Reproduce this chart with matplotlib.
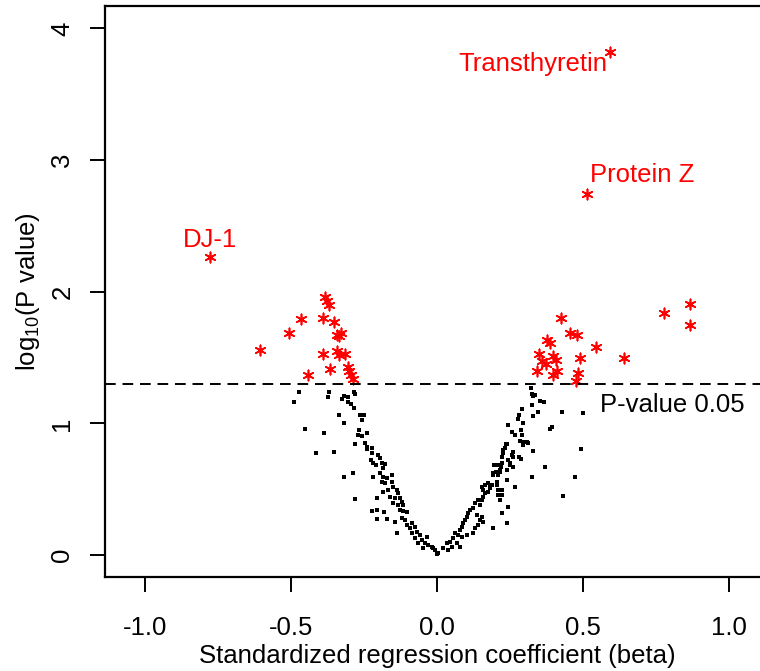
import matplotlib
matplotlib.use('Agg')
import matplotlib.pyplot as plt

# proteins below significance (black), left arm of the volcano
left_beta = [-0.473, -0.490, -0.370, -0.373, -0.325, -0.318, -0.305, -0.284, -0.281, -0.305,
             -0.295, -0.284, -0.336, -0.318, -0.264, -0.250, -0.257, -0.452, -0.387, -0.267,
             -0.271, -0.257, -0.240, -0.281, -0.247, -0.240, -0.414, -0.353, -0.240, -0.223,
             -0.223, -0.202, -0.195, -0.226, -0.219, -0.209, -0.188, -0.178, -0.185, -0.318,
             -0.288, -0.219, -0.195, -0.185, -0.171, -0.154, -0.188, -0.178, -0.154, -0.151,
             -0.185, -0.168, -0.137, -0.134, -0.281, -0.205, -0.161, -0.144, -0.127, -0.120,
             -0.151, -0.134, -0.116, -0.223, -0.205, -0.182, -0.127, -0.116, -0.103, -0.205,
             -0.171, -0.144, -0.120, -0.110, -0.103, -0.086, -0.092, -0.075, -0.137, -0.086,
             -0.068, -0.058, -0.075, -0.051, -0.034, -0.065, -0.041, -0.031, -0.048, -0.017,
             -0.007, 0.000, -0.014]
left_logp = [1.238, 1.162, 1.238, 1.200, 1.185, 1.207, 1.200, 1.238, 1.222, 1.162,
             1.147, 1.116, 1.063, 1.002, 1.063, 1.063, 1.025, 0.957, 0.926, 0.949,
             0.911, 0.904, 0.926, 0.843, 0.850, 0.820, 0.774, 0.782, 0.805, 0.812,
             0.774, 0.759, 0.737, 0.721, 0.699, 0.683, 0.699, 0.691, 0.661, 0.592,
             0.623, 0.592, 0.623, 0.592, 0.585, 0.607, 0.554, 0.547, 0.554, 0.516,
             0.478, 0.494, 0.494, 0.471, 0.425, 0.433, 0.440, 0.433, 0.433, 0.402,
             0.395, 0.380, 0.380, 0.334, 0.342, 0.326, 0.342, 0.334, 0.326, 0.273,
             0.273, 0.251, 0.281, 0.266, 0.228, 0.243, 0.205, 0.213, 0.167, 0.167,
             0.175, 0.152, 0.129, 0.114, 0.137, 0.091, 0.091, 0.076, 0.053, 0.061,
             0.038, 0.008, 0.053]

# right arm of the volcano
right_beta = [0.003, 0.021, 0.034, 0.045, 0.055, 0.062, 0.072, 0.079, 0.086, 0.089,
              0.096, 0.103, 0.106, 0.113, 0.123, 0.130, 0.140, 0.147, 0.154, 0.158,
              0.164, 0.158, 0.154, 0.164, 0.175, 0.182, 0.188, 0.175, 0.086, 0.103,
              0.123, 0.130, 0.140, 0.147, 0.154, 0.158, 0.192, 0.137, 0.068, 0.079,
              0.051, 0.038, 0.240, 0.223, 0.243, 0.216, 0.209, 0.223, 0.205, 0.240,
              0.267, 0.192, 0.216, 0.209, 0.223, 0.240, 0.250, 0.257, 0.226, 0.233,
              0.240, 0.260, 0.295, 0.312, 0.322, 0.325, 0.329, 0.336, 0.353, 0.366,
              0.325, 0.291, 0.346, 0.428, 0.500, 0.281, 0.277, 0.329, 0.295, 0.243,
              0.394, 0.387, 0.288, 0.257, 0.267, 0.291, 0.284, 0.308, 0.295, 0.236,
              0.226, 0.260, 0.329, 0.493, 0.223, 0.281, 0.288, 0.243, 0.250, 0.260,
              0.195, 0.219, 0.216, 0.202, 0.370, 0.209, 0.192, 0.325, 0.473, 0.182,
              0.205, 0.209, 0.223, 0.432]
right_logp = [0.015, 0.053, 0.091, 0.099, 0.129, 0.167, 0.152, 0.190, 0.213, 0.243,
              0.266, 0.289, 0.319, 0.342, 0.357, 0.395, 0.418, 0.380, 0.418, 0.440,
              0.471, 0.494, 0.516, 0.532, 0.547, 0.509, 0.532, 0.478, 0.137, 0.152,
              0.167, 0.205, 0.228, 0.266, 0.289, 0.251, 0.205, 0.304, 0.091, 0.061,
              0.061, 0.038, 0.243, 0.319, 0.364, 0.418, 0.456, 0.494, 0.554, 0.569,
              0.516, 0.623, 0.630, 0.683, 0.699, 0.645, 0.683, 0.759, 0.774, 0.812,
              0.843, 0.744, 0.858, 0.850, 1.268, 1.222, 1.207, 1.215, 1.169, 1.162,
              1.139, 1.109, 1.086, 1.086, 1.078, 1.063, 1.033, 1.055, 1.002, 0.987,
              0.972, 0.957, 0.949, 0.934, 0.911, 0.911, 0.866, 0.858, 0.835, 0.843,
              0.797, 0.782, 0.790, 0.805, 0.744, 0.744, 0.729, 0.721, 0.699, 0.668,
              0.683, 0.668, 0.645, 0.630, 0.668, 0.607, 0.607, 0.592, 0.592, 0.516,
              0.532, 0.494, 0.456, 0.448]

# significant proteins (red)
sig_beta = [-0.777, -0.606, -0.384, -0.377, -0.370, -0.390, -0.353, -0.507, -0.466, -0.329,
            -0.342, -0.336, -0.390, -0.342, -0.336, -0.315, -0.442, -0.366, -0.305, -0.301,
            -0.295, -0.288,
            0.592, 0.514, 0.425, 0.455, 0.479, 0.377, 0.387, 0.349, 0.360, 0.373,
            0.397, 0.408, 0.411, 0.397, 0.342, 0.490, 0.483, 0.476, 0.545, 0.640,
            0.777, 0.866, 0.866]
sig_logp = [2.26, 1.56, 1.96, 1.93, 1.90, 1.80, 1.77, 1.69, 1.79, 1.69,
            1.67, 1.66, 1.53, 1.55, 1.52, 1.53, 1.37, 1.41, 1.43, 1.40,
            1.37, 1.34,
            3.82, 2.74, 1.80, 1.69, 1.67, 1.63, 1.61, 1.53, 1.47, 1.45,
            1.51, 1.48, 1.40, 1.37, 1.40, 1.50, 1.38, 1.32, 1.58, 1.50,
            1.84, 1.91, 1.75]

label_text = ['DJ-1', 'Transthyretin', 'Protein Z']
label_x = [-0.777, 0.585, 0.524]
label_y = [2.39, 3.73, 2.89]
label_ha = ['center', 'right', 'left']

cutoff = 1.301  # -log10(0.05)

plt.rcParams['font.family'] = ['Liberation Sans', 'DejaVu Sans']
plt.rcParams['mathtext.fontset'] = 'custom'
plt.rcParams['mathtext.rm'] = 'Liberation Sans'
plt.rcParams['mathtext.it'] = 'Liberation Sans:italic'

fig = plt.figure(figsize=(7.6, 6.71), dpi=100)
ax = fig.add_axes([105/760, 94/671, 664/760, 571/671])

ax.scatter(left_beta, left_logp, s=7, marker='s', color='black', linewidths=0)
ax.scatter(right_beta, right_logp, s=7, marker='s', color='black', linewidths=0)
ax.scatter(sig_beta, sig_logp, s=55, marker=(6, 2, 0), color='red', linewidths=1.2)

for t, x, y, ha in zip(label_text, label_x, label_y, label_ha):
    ax.text(x, y, t, color='red', fontsize=18.5, ha=ha, va='center')

ax.axhline(cutoff, color='black', lw=1.4, ls=(0, (5.5, 3.5)))
ax.text(0.558, 1.14, 'P-value 0.05', fontsize=18.5, ha='left', va='center')

ax.set_xlim(-1.137, 1.137)
ax.set_ylim(-0.167, 4.17)
ax.set_xticks([-1.0, -0.5, 0.0, 0.5, 1.0])
ax.set_xticklabels(['-1.0', '-0.5', '0.0', '0.5', '1.0'])
ax.set_yticks([0, 1, 2, 3, 4])
ax.tick_params(axis='both', length=11, width=1.4, labelsize=18.5, direction='out')
ax.tick_params(axis='x', pad=17)
ax.tick_params(axis='y', pad=11)
for lab in ax.get_yticklabels():
    lab.set_rotation(90)
    lab.set_va('center')
for sp in ax.spines.values():
    sp.set_linewidth(1.6)

ax.set_xlabel('Standardized regression coefficient (beta)', fontsize=18.5, labelpad=3)
ax.set_ylabel(r'log$_{10}$(P value)', fontsize=18.5, labelpad=6)

fig.savefig('out.png', dpi=100)
